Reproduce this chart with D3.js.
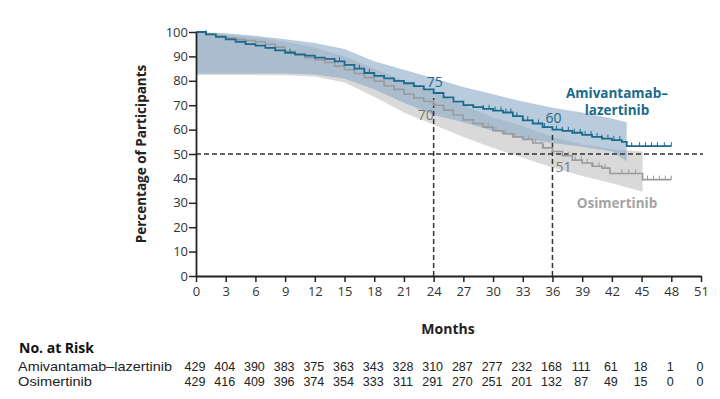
<!DOCTYPE html>
<html>
<head>
<meta charset="utf-8">
<script src="https://cdn.jsdelivr.net/npm/d3@7"></script>
<style>
  body { margin: 0; background: #fff; }
  text { font-family: "Open Sans", "Noto Sans", sans-serif; }
</style>
</head>
<body>
<svg id="km"></svg>
<script>
// data
var monthTicks = [0,3,6,9,12,15,18,21,24,27,30,33,36,39,42,45,48,51];
var percentTicks = [0,10,20,30,40,50,60,70,80,90,100];

var amivTime = [0,1,2,3,4,5,6,7,8,9,10,11,12,13,14,15,16,17,18,19,20,21,22,23,24,25,26,27,28,29,30,31,32,33,34,35,36,37,38,39,40,41,42,43,43.5,48];
var amivSurv = [100,99,98,97,96,95,94.4,93.5,92.5,91.5,90.8,90.3,89.5,89,88,86.5,85,83.2,82,81,80,79,77.8,76.5,75,73.2,71.5,70,69.2,68.5,67.8,67,65.5,63.8,62.5,61,60,59.5,58.7,57.8,57,56.3,55.7,55,53.2,53.2];
var amivCensor = [1,9.5,14.5,16.5,17.5,29,29.6,30.2,30.8,31.3,31.8,32.4,33,33.5,34,34.6,35.2,36.4,37,37.6,38.2,38.8,39.3,39.9,40.5,41,41.6,42.2,42.8,44,44.8,45.4,46,46.6,47.3,48];
var amivBandTime = [0,3,6,9,12,15,18,21,24,27,30,33,36,39,42,43.5];
var amivUpper = [100,99.5,98.5,97,95.5,93,88,84.5,81,77.5,74.5,71.5,69,67,64.5,63];
var amivLower = [83,83,83,83,82.6,80.8,76.5,71,66,63,59.5,56.5,54.5,53,51,47];

var osimTime = [0,1,2,3,4,5,6,7,8,9,10,11,12,13,14,15,16,17,18,19,20,21,22,23,24,25,26,27,28,29,30,31,32,33,34,35,36,37,38,39,40,41,41.8,45.1,48];
var osimSurv = [100,99,98.3,97.5,97,96.5,96,95,93.8,92,90.5,89.5,88.5,87.5,86,84.5,83,81.3,79.8,78,76.5,74.5,73,71.5,70,68,66,64,62.5,61,59.5,58.3,57,56,54.5,52.5,51,49.3,47.5,46.3,45,44.2,42,39.5,39.5];
var osimCensor = [13,26,29.5,30.3,31.2,32.2,33,33.6,34.3,35.1,37,37.6,38.3,38.9,39.5,40.1,40.7,41.3,43,43.7,44.4,45.6,46.2,46.8,47.4,48];
var osimBandTime = [0,3,6,9,12,15,18,21,24,27,30,33,36,39,42,45.1];
var osimUpper = [100,99,98,96,93.5,90,85,80,75.5,70,65,61.5,57,54,52,51];
var osimLower = [82.4,82.4,82.4,82.3,81.8,79.3,73.5,67,62,57,52.5,48.5,44.5,41,38,34.5];

var riskAmiv = [429,404,390,383,375,363,343,328,310,287,277,232,168,111,61,18,1,0];
var riskOsim = [429,416,409,396,374,354,333,311,291,270,251,201,132,87,49,15,0,0];

var teal = "#1b6a8c", grey = "#9a9a9a";

var width = 720, height = 399;
var svg = d3.select("#km").attr("width", width).attr("height", height);

var x = d3.scaleLinear().domain([0, 51]).range([196, 701]);
var y = d3.scaleLinear().domain([0, 100]).range([276, 32]);

function band(times, lo, hi) {
  return d3.area()
    .x(function(d, i) { return x(times[i]); })
    .y0(function(d, i) { return y(lo[i]); })
    .y1(function(d, i) { return y(hi[i]); })(times);
}

// confidence bands
svg.append("path").attr("d", band(osimBandTime, osimLower, osimUpper))
  .attr("fill", "#cccccc").attr("opacity", 0.75);
svg.append("path").attr("d", band(amivBandTime, amivLower, amivUpper))
  .attr("fill", "#8aaac8").attr("opacity", 0.6);

// reference lines
var dash = "5,3";
svg.append("line").attr("x1", x(0)).attr("x2", x(51.2)).attr("y1", y(50)).attr("y2", y(50))
  .attr("stroke", "#333").attr("stroke-width", 1.5).attr("stroke-dasharray", dash);
svg.append("line").attr("x1", x(24)).attr("x2", x(24)).attr("y1", y(0)).attr("y2", y(73))
  .attr("stroke", "#333").attr("stroke-width", 1.5).attr("stroke-dasharray", dash);
svg.append("line").attr("x1", x(36)).attr("x2", x(36)).attr("y1", y(0)).attr("y2", y(58))
  .attr("stroke", "#333").attr("stroke-width", 1.5).attr("stroke-dasharray", dash);

// step curves
function stepLine(times, surv) {
  return d3.line().curve(d3.curveStepAfter)
    .x(function(d, i) { return x(times[i]); })
    .y(function(d, i) { return y(surv[i]); })(times);
}
function survAt(times, surv, t) {
  var i = d3.bisectRight(times, t) - 1;
  return surv[Math.max(0, i)];
}

svg.append("path").attr("d", stepLine(osimTime, osimSurv))
  .attr("fill", "none").attr("stroke", grey).attr("stroke-width", 1.6);
svg.append("path").attr("d", stepLine(amivTime, amivSurv))
  .attr("fill", "none").attr("stroke", teal).attr("stroke-width", 1.8);

svg.selectAll(".cg").data(osimCensor).join("line")
  .attr("x1", function(d) { return x(d); }).attr("x2", function(d) { return x(d); })
  .attr("y1", function(d) { return y(survAt(osimTime, osimSurv, d)); })
  .attr("y2", function(d) { return y(survAt(osimTime, osimSurv, d)) - 4; })
  .attr("stroke", grey).attr("stroke-width", 1);
svg.selectAll(".ct").data(amivCensor).join("line")
  .attr("x1", function(d) { return x(d); }).attr("x2", function(d) { return x(d); })
  .attr("y1", function(d) { return y(survAt(amivTime, amivSurv, d)); })
  .attr("y2", function(d) { return y(survAt(amivTime, amivSurv, d)) - 4; })
  .attr("stroke", teal).attr("stroke-width", 1);

// axes
var xAxis = svg.append("g").attr("transform", "translate(0," + y(0) + ")")
  .call(d3.axisBottom(x).tickValues(monthTicks).tickSize(6).tickPadding(5).tickSizeOuter(0));
var yAxis = svg.append("g").attr("transform", "translate(" + x(0) + ",0)")
  .call(d3.axisLeft(y).tickValues(percentTicks).tickSize(7).tickPadding(1).tickSizeOuter(0));
[xAxis, yAxis].forEach(function(g) {
  g.select(".domain").attr("stroke", "#222").attr("stroke-width", 1.8);
  g.selectAll(".tick line").attr("stroke", "#222").attr("stroke-width", 1.5);
  g.selectAll(".tick text").attr("fill", "#333").style("font-size", "13px")
    .style("font-family", "'Open Sans', sans-serif");
});

svg.append("text").attr("x", 448).attr("y", 334).attr("text-anchor", "middle")
  .style("font-size", "14px").style("font-weight", "bold").attr("fill", "#222").text("Months");
svg.append("text").attr("transform", "translate(146,154) rotate(-90)").attr("text-anchor", "middle")
  .style("font-size", "13.5px").style("font-weight", "bold").attr("fill", "#222")
  .text("Percentage of Participants");

// annotations
function label(t, xx, yy, col, anchor) {
  svg.append("text").attr("x", xx).attr("y", yy).attr("text-anchor", anchor || "start")
    .style("font-size", "14px").attr("fill", col).text(t);
}
label("75", x(24) - 7, 87, teal);
label("70", x(24) - 16, 120, "#7a7a7a");
label("60", x(36) - 7, 123, teal);
label("51", x(36) + 3, 172, "#7a7a7a");

svg.append("text").attr("x", 617).attr("y", 98).attr("text-anchor", "middle")
  .style("font-size", "13.5px").style("font-weight", "bold").attr("fill", teal).text("Amivantamab–");
svg.append("text").attr("x", 617).attr("y", 115).attr("text-anchor", "middle")
  .style("font-size", "13.5px").style("font-weight", "bold").attr("fill", teal).text("lazertinib");
svg.append("text").attr("x", 617).attr("y", 208).attr("text-anchor", "middle")
  .style("font-size", "13.5px").style("font-weight", "bold").attr("fill", "#a3a3a3").text("Osimertinib");

// number at risk
svg.append("text").attr("x", 19).attr("y", 353).style("font-size", "14px")
  .style("font-weight", "bold").attr("fill", "#111").text("No. at Risk");
var rows = [["Amivantamab–lazertinib", riskAmiv, 371, 154], ["Osimertinib", riskOsim, 386, 74]];
rows.forEach(function(r) {
  svg.append("text").attr("x", 18).attr("y", r[2])
    .style("font-family", "'Liberation Sans', Arial, sans-serif").style("font-size", "13px")
    .attr("textLength", r[3]).attr("lengthAdjust", "spacingAndGlyphs")
    .attr("fill", "#222").text(r[0]);
  svg.selectAll(null).data(r[1]).join("text")
    .attr("x", function(d, i) { return x(monthTicks[i]) - 1; })
    .attr("y", r[2]).attr("text-anchor", "middle")
    .style("font-family", "'Liberation Sans', Arial, sans-serif")
    .style("font-size", "12.5px").attr("fill", "#222")
    .text(function(d) { return d; });
});
</script>
</body>
</html>
